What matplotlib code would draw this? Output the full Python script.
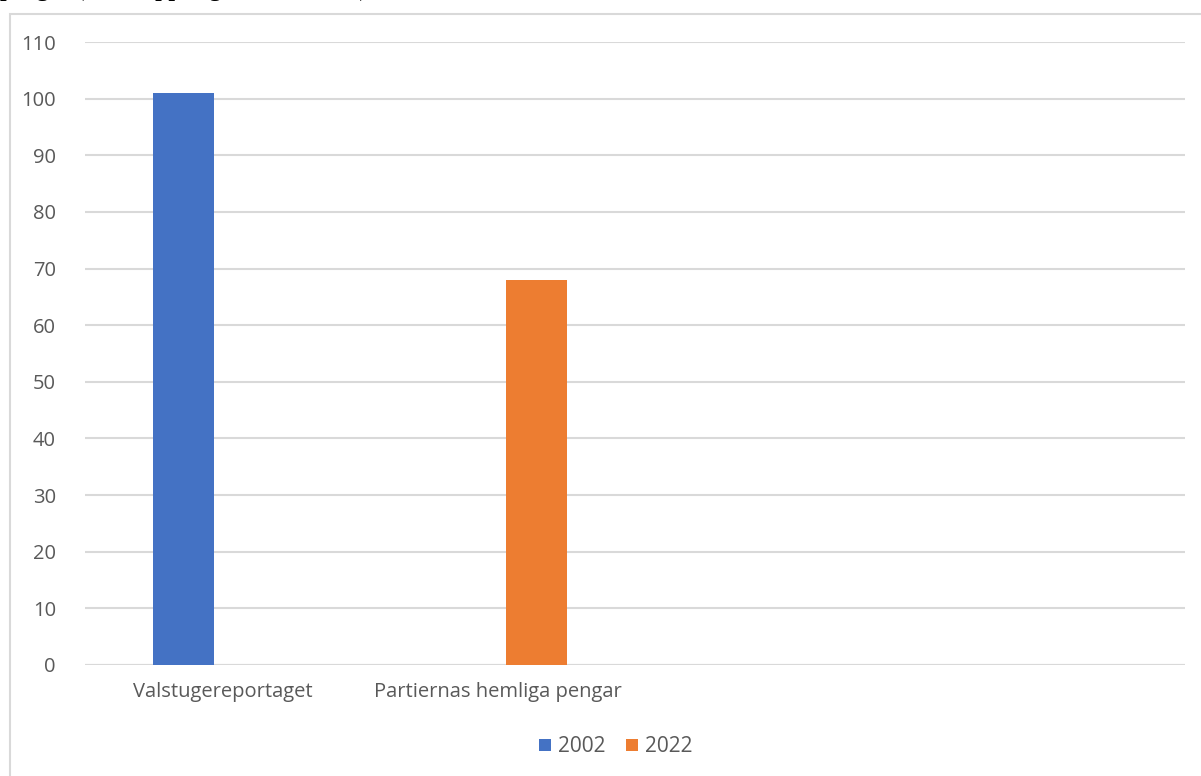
import numpy as np
import matplotlib.pyplot as plt
from matplotlib.patches import Rectangle

# data
categories = ["Valstugereportaget", "Partiernas hemliga pengar", "", ""]
series_names = ["2002", "2022"]
values_2002 = [101, 0, 0, 0]
values_2022 = [0, 68, 0, 0]
colors = ["#4472c4", "#ed7d31"]
yticks = np.arange(0, 111, 10)

plt.rcParams['font.family'] = ['Open Sans', 'DejaVu Sans']

fig = plt.figure(figsize=(12.01, 7.76), dpi=100)
W, H = 1201, 776

# chart frame (cropped at right and bottom)
fig.patches.append(Rectangle((10 / W, -0.05), 1.1, 1 - 14 / H + 0.05,
                             transform=fig.transFigure, fill=False,
                             edgecolor="#d9d9d9", linewidth=1.5, zorder=0))

# cropped title at the very top, only descenders visible
fig.text(0.0, 1 + 4 / H, "pengar (antal uppslag i Aftonbladet)",
         family=["Liberation Serif", "DejaVu Serif"], fontweight="bold",
         fontsize=17, ha="left", va="baseline", color="black")

ax = fig.add_axes([85 / W, 1 - 665 / H, 1100 / W, (665 - 42) / H])

x = np.arange(len(categories))
bw = 0.222
off = 0.143
ax.bar(x - off, values_2002, bw, color=colors[0], label=series_names[0], zorder=3)
ax.bar(x + off, values_2022, bw, color=colors[1], label=series_names[1], zorder=3)

ax.set_xlim(-0.5, len(categories) - 0.5)
ax.set_ylim(0, 110)
ax.set_yticks(yticks)
ax.set_xticks(x)
ax.set_xticklabels(categories)
ax.tick_params(axis="both", length=0, labelsize=14.5, labelcolor="#595959")
ax.tick_params(axis="y", pad=21)
ax.tick_params(axis="x", pad=12)
ax.grid(axis="y", color="#d9d9d9", linewidth=1.5, zorder=0)
for s in ax.spines.values():
    s.set_visible(False)
ax.axhline(0, color="#d9d9d9", linewidth=1.5, zorder=2)

fig.legend(loc="center", bbox_to_anchor=(616 / W, 1 - 747 / H), ncol=2,
           frameon=False, fontsize=15, handlelength=0.55, handleheight=0.55,
           handletextpad=0.35, columnspacing=1.0, labelcolor="#595959")

fig.savefig("out.png", dpi=100)
